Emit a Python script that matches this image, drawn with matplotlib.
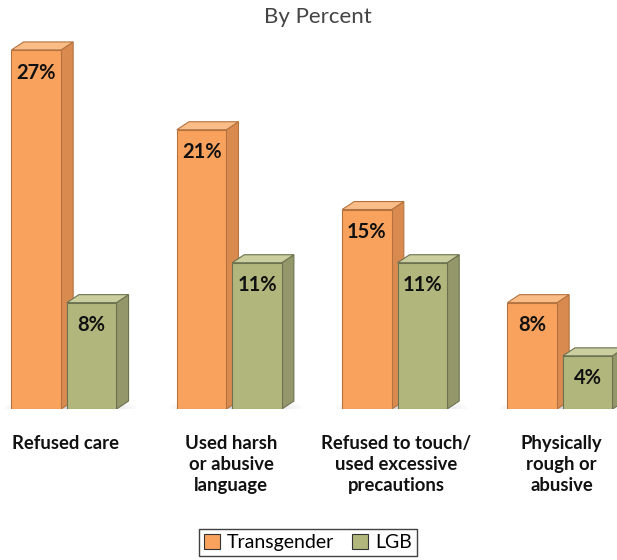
import numpy as np
import matplotlib.pyplot as plt
from matplotlib.patches import Polygon, Rectangle, Ellipse

categories = ["Refused care", "Used harsh\nor abusive\nlanguage",
              "Refused to touch/\nused excessive\nprecautions",
              "Physically\nrough or\nabusive"]
transgender = [27, 21, 15, 8]
lgb = [8, 11, 11, 4]
series_names = ["Transgender", "LGB"]

FONT = "Lato"

# face colours: front, side, top, edge
ORANGE = ("#f9a25e", "#d98a4f", "#fbbd88", "#b4733e")
GREEN = ("#b1b77c", "#93976a", "#cbcf9f", "#6c7250")

BAR_W = 0.30
GAP = 0.035
DX = 0.073   # depth offset along x (data units)
DY = 0.60    # depth offset along y (percent units)


def bar3d(ax, x0, h, cols):
    front, side, top, edge = cols
    x1 = x0 + BAR_W
    ax.add_patch(Polygon([(x1, 0), (x1 + DX, DY), (x1 + DX, h + DY), (x1, h)],
                         closed=True, fc=side, ec=edge, lw=0.8, zorder=3))
    ax.add_patch(Polygon([(x0, h), (x0 + DX, h + DY), (x1 + DX, h + DY), (x1, h)],
                         closed=True, fc=top, ec=edge, lw=0.8, zorder=3))
    ax.add_patch(Rectangle((x0, 0), BAR_W, h, fc=front, ec=edge, lw=0.8, zorder=4))
    ax.text(x0 + BAR_W / 2, h - 1.7, f"{h}%", ha="center", va="center",
            fontsize=14.5, fontweight="bold", family=FONT, color="#111111", zorder=5)


fig = plt.figure(figsize=(6.17, 5.6), dpi=100)
ax = fig.add_axes([0, 0.2696, 1, 0.7125])
ax.set_xlim(-0.387, 3.345)
ax.set_ylim(0, 30)
ax.axis("off")

for i, (t, g) in enumerate(zip(transgender, lgb)):
    # soft floor shadow under each pair of bars
    for k in range(8):
        ax.add_patch(Ellipse((i + 0.04, 0.1), 0.80 - k * 0.07, 1.2 - k * 0.1,
                             fc="#8a8a8a", ec="none", alpha=0.045, zorder=1))
    bar3d(ax, i - GAP / 2 - BAR_W, t, ORANGE)
    bar3d(ax, i + GAP / 2, g, GREEN)
    ax.text(i + 0.01, -1.95, categories[i], ha="center", va="top",
            fontsize=13.3, fontweight="bold", family=FONT, color="#111111",
            linespacing=1.28)

fig.text(0.515, 0.970, "By Percent", ha="center", va="center",
         fontsize=16, family=FONT, color="#444444")

handles = [Rectangle((0, 0), 1, 1, fc=ORANGE[0], ec="#333333", lw=0.8),
           Rectangle((0, 0), 1, 1, fc=GREEN[0], ec="#333333", lw=0.8)]
leg = fig.legend(handles, series_names, loc="center", bbox_to_anchor=(0.499, 0.0315),
                 ncol=2, frameon=True, fancybox=False, edgecolor="#111111",
                 prop={"family": FONT, "size": 14}, handlelength=0.85,
                 handleheight=0.85, handletextpad=0.35, columnspacing=0.9,
                 borderpad=0.25)
leg.get_frame().set_linewidth(1.0)

fig.savefig("out.png", dpi=100, facecolor="white")
